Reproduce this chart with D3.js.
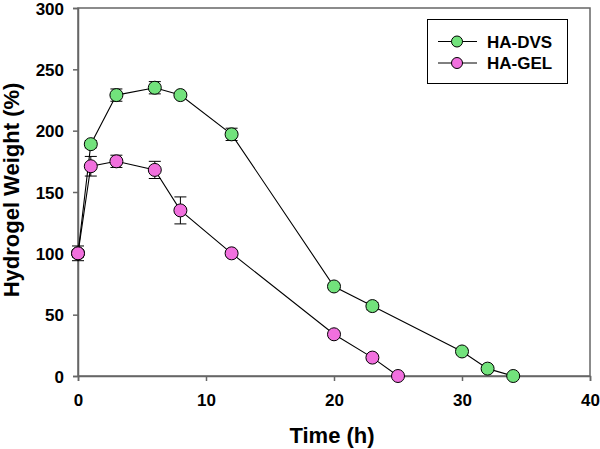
<!DOCTYPE html>
<html><head><meta charset="utf-8">
<script src="https://cdn.jsdelivr.net/npm/d3@7"></script>
<style>body{margin:0;background:#fff}svg{display:block}text{font-family:Arial,"Liberation Sans",sans-serif;font-weight:bold}</style>
</head><body>
<svg id="c" width="600" height="449"></svg>
<script>
const timeDVS = [0, 1, 3, 6, 8, 12, 20, 23, 30, 32, 34];
const weightDVS = [100, 189, 229, 235, 229, 197, 73, 57, 20, 6, 0];
const errDVS = [3, 3, 5, 5, 2, 5, 2, 3, 2, 1, 0];
const timeGEL = [0, 1, 3, 6, 8, 12, 20, 23, 25];
const weightGEL = [100, 171, 175, 168, 135, 100, 34, 15, 0];
const errGEL = [6, 8, 5, 7, 11, 2, 1, 1, 0];
const xTicks = [0, 10, 20, 30, 40];
const yTicks = [0, 50, 100, 150, 200, 250, 300];
const seriesNames = ["HA-DVS", "HA-GEL"];
const seriesColors = ["#72e27c", "#f170de"];

const svg = d3.select("#c");
const L = 78, R = 590, T = 8, B = 376;
const x = d3.scaleLinear().domain([0, 40]).range([L, R]);
const y = d3.scaleLinear().domain([0, 300]).range([B, T]);
const axisColor = "#666";

svg.append("rect").attr("x", L).attr("y", T).attr("width", R - L).attr("height", B - T)
  .attr("fill", "none").attr("stroke", axisColor).attr("stroke-width", 1.5);

const xa = svg.append("g").attr("transform", `translate(0,${B})`)
  .call(d3.axisBottom(x).tickValues(xTicks).tickSize(5).tickPadding(13).tickFormat(d3.format("d")));
const ya = svg.append("g").attr("transform", `translate(${L},0)`)
  .call(d3.axisLeft(y).tickValues(yTicks).tickSize(5).tickPadding(9).tickFormat(d3.format("d")));
[xa, ya].forEach(a => {
  a.select(".domain").attr("stroke", axisColor).attr("stroke-width", 1.5);
  a.selectAll(".tick line").attr("stroke", axisColor).attr("stroke-width", 1.5);
  a.selectAll(".tick text").attr("fill", "#000").style("font-size", "17px").style("font-family", "Arial, 'Liberation Sans', sans-serif").style("font-weight", "bold");
});
ya.selectAll(".tick text").attr("dy", "0.36em");

svg.append("text").attr("x", (L + R) / 2 - 2).attr("y", 443).attr("text-anchor", "middle")
  .style("font-size", "22px").text("Time (h)");
svg.append("text").attr("transform", `translate(19,190) rotate(-90)`).attr("text-anchor", "middle")
  .style("font-size", "22px").text("Hydrogel Weight (%)");

const series = [
  { t: timeDVS, v: weightDVS, e: errDVS, c: seriesColors[0] },
  { t: timeGEL, v: weightGEL, e: errGEL, c: seriesColors[1] }
];
const line = d3.line().x(d => x(d[0])).y(d => y(d[1]));
series.forEach(s => {
  const pts = s.t.map((t, i) => [t, s.v[i], s.e[i]]);
  svg.append("path").datum(pts).attr("d", line).attr("fill", "none").attr("stroke", "#000").attr("stroke-width", 1.1);
  const eb = svg.append("g");
  pts.filter(p => p[2] > 0).forEach(p => {
    eb.append("line").attr("x1", x(p[0])).attr("x2", x(p[0])).attr("y1", y(p[1] - p[2])).attr("y2", y(p[1] + p[2])).attr("stroke", "#000");
    [p[1] - p[2], p[1] + p[2]].forEach(v => eb.append("line").attr("x1", x(p[0]) - 6).attr("x2", x(p[0]) + 6).attr("y1", y(v)).attr("y2", y(v)).attr("stroke", "#000"));
  });
});
series.forEach(s => {
  svg.append("g").selectAll("circle").data(s.t.map((t, i) => [t, s.v[i]])).join("circle")
    .attr("cx", d => x(d[0])).attr("cy", d => y(d[1])).attr("r", 6.5)
    .attr("fill", s.c).attr("stroke", "#000").attr("stroke-width", 1);
});

const lg = svg.append("g");
lg.append("rect").attr("x", 427.5).attr("y", 19.5).attr("width", 140).attr("height", 64)
  .attr("fill", "#fff").attr("stroke", "#000").attr("stroke-width", 1);
seriesNames.forEach((n, i) => {
  const yy = 41.5 + i * 21.5;
  lg.append("line").attr("x1", 438).attr("x2", 477).attr("y1", yy).attr("y2", yy).attr("stroke", "#000");
  lg.append("circle").attr("cx", 457).attr("cy", yy).attr("r", 5.5).attr("fill", seriesColors[i]).attr("stroke", "#000");
  lg.append("text").attr("x", 487).attr("y", yy + 6).style("font-size", "17px").text(n);
});
</script>
</body></html>
